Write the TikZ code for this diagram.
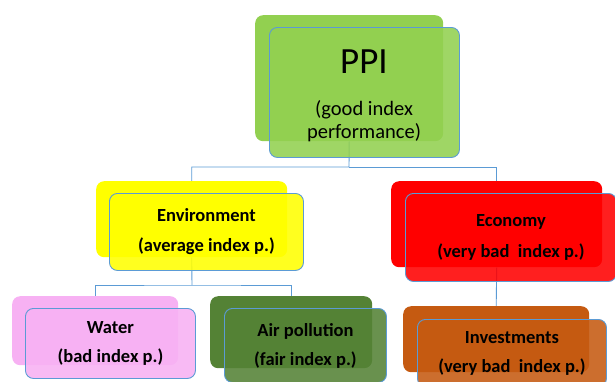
\documentclass[tikz,border=0pt]{standalone}
\usepackage{fontspec}
\setmainfont{Carlito}
\usetikzlibrary{backgrounds}
\definecolor{ppigreen}{HTML}{92D050}
\definecolor{envyellow}{HTML}{FFFF00}
\definecolor{econred}{HTML}{FF0000}
\definecolor{waterpink}{HTML}{F7B1F3}
\definecolor{airgreen}{HTML}{548235}
\definecolor{invorange}{HTML}{C55A11}
\definecolor{edgeblue}{HTML}{5B9BD5}
\begin{document}
\begin{tikzpicture}[x=1pt,y=-1pt,
  backbox/.style={rectangle, rounded corners=8pt, anchor=north west, inner sep=0pt, draw=none},
  frontbox/.style={rectangle, rounded corners=8pt, anchor=north west, inner sep=0pt,
    draw=edgeblue, line width=0.9pt, fill opacity=0.88, text opacity=1, align=center},
  conn/.style={draw=edgeblue, line width=0.9pt},
  lbl/.style={font=\bfseries\fontsize{18.5}{#1}\selectfont}]
\useasboundingbox (0,0) rectangle (615,381);

% top level
\node[backbox, fill=ppigreen, minimum width=188pt, minimum height=126pt] (ppib) at (255,15) {};
\node[frontbox, fill=ppigreen, minimum width=190pt, minimum height=130pt] (ppif) at (269,27) {};
\node[font=\fontsize{37}{40}\selectfont] (ppititle) at (364,62) {PPI};
\node[align=center, font=\fontsize{20.5}{23}\selectfont] (ppisub) at (364,121) {(good index\\performance)};

% second level
\node[backbox, fill=envyellow, minimum width=191pt, minimum height=76pt] (envb) at (96,181) {};
\node[frontbox, fill=envyellow, minimum width=194pt, minimum height=77pt, lbl=30] (envf) at (109,193)
  {Environment\\(average index p.)};
\node[backbox, fill=econred, minimum width=211pt, minimum height=86pt] (econb) at (391,181) {};
\node[frontbox, fill=econred, minimum width=211pt, minimum height=88pt, lbl=31] (econf) at (405,193)
  {Economy\\(very bad\ \ index p.)};

% third level
\node[backbox, fill=waterpink, minimum width=166pt, minimum height=69pt] (waterb) at (12,296) {};
\node[frontbox, fill=waterpink, minimum width=170pt, minimum height=70pt, lbl=29] (waterf) at (25,308)
  {Water\\(bad index p.)};
\node[backbox, fill=airgreen, minimum width=162pt, minimum height=72pt] (airb) at (210,296) {};
\node[frontbox, fill=airgreen, minimum width=162pt, minimum height=74pt, lbl=29] (airf) at (224,308)
  {Air pollution\\(fair index p.)};
\node[backbox, fill=invorange, minimum width=186pt, minimum height=66pt] (invb) at (403,306) {};
\node[frontbox, fill=invorange, minimum width=189pt, minimum height=67pt, lbl=29] (invf) at (417,319)
  {Investments\\(very bad\ \ index p.)};

% connectors behind the boxes
\begin{scope}[on background layer]
  \coordinate (j1) at (349,167);
  \coordinate (j2) at (192,285);
  \draw[conn] (ppib.south) -- (j1) -| (envb.north);
  \draw[conn] (j1) -| (econb.north);
  \draw[conn] (envb.south) -- (j2);
  \draw[conn] (waterb.north) |- (j2) -| (airb.north);
  \draw[conn] (econb.south) -- (invb.north);
\end{scope}
\end{tikzpicture}
\end{document}
